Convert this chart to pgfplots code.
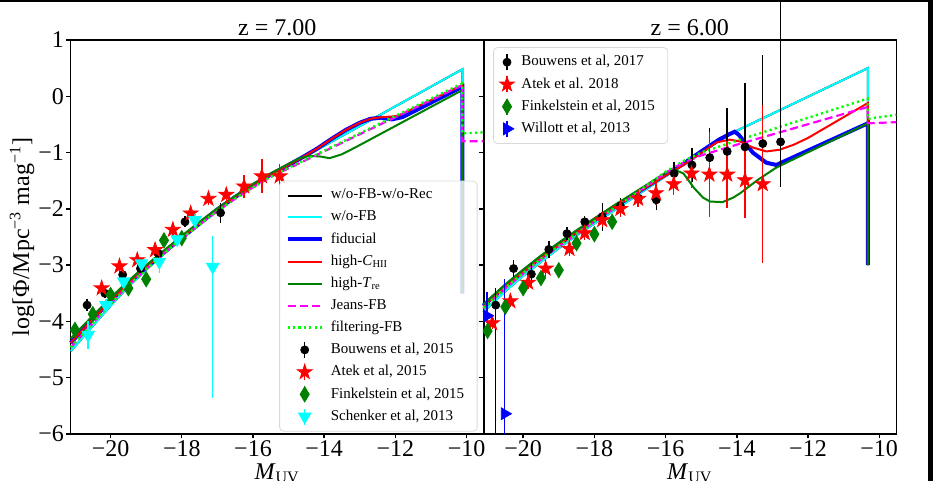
\documentclass[border=0pt]{standalone}
\usepackage{fontspec}
\setmainfont{Liberation Serif}
\usepackage{pgfplots}
\pgfplotsset{compat=1.18}
\usetikzlibrary{plotmarks}

\definecolor{mplgreen}{RGB}{0,128,0}
\definecolor{mpllime}{RGB}{0,255,0}
\definecolor{mplmag}{RGB}{255,0,255}
\definecolor{mplcyan}{RGB}{0,255,255}
\definecolor{mplred}{RGB}{255,0,0}
\definecolor{mplblue}{RGB}{0,0,255}

% filled five-pointed star, like matplotlib's '*'
\pgfdeclareplotmark{fivestar}{%
  \pgfpathmoveto{\pgfqpointpolar{90}{\pgfplotmarksize}}%
  \pgfpathlineto{\pgfqpointpolar{126}{0.382\pgfplotmarksize}}%
  \pgfpathlineto{\pgfqpointpolar{162}{\pgfplotmarksize}}%
  \pgfpathlineto{\pgfqpointpolar{198}{0.382\pgfplotmarksize}}%
  \pgfpathlineto{\pgfqpointpolar{234}{\pgfplotmarksize}}%
  \pgfpathlineto{\pgfqpointpolar{270}{0.382\pgfplotmarksize}}%
  \pgfpathlineto{\pgfqpointpolar{306}{\pgfplotmarksize}}%
  \pgfpathlineto{\pgfqpointpolar{342}{0.382\pgfplotmarksize}}%
  \pgfpathlineto{\pgfqpointpolar{18}{\pgfplotmarksize}}%
  \pgfpathlineto{\pgfqpointpolar{54}{0.382\pgfplotmarksize}}%
  \pgfpathclose
  \pgfusepathqfillstroke
}

\pgfplotsset{
  panel/.style={
    scale only axis, width=206.5pt, height=197pt,
    xmin=-21.12, xmax=-9.52, ymin=-6, ymax=1,
    xtick={-20,-18,-16,-14,-12,-10},
    xticklabels={−20,−18,−16,−14,−12,−10},
    ytick={-6,-5,-4,-3,-2,-1,0,1},
    tick align=outside, xtick pos=bottom, ytick pos=left,
    major tick length=2.2pt,
    tick style={black, line width=0.7pt},
    axis line style={line width=0.8pt},
    ticklabel style={font=\fontsize{12}{14}\selectfont, inner sep=1pt},
    every axis title shift=0pt,
    title style={font=\fontsize{12}{14}\selectfont, at={(axis description cs:0.5,1)},
      anchor=south, inner sep=0pt, yshift=2pt},
    xlabel={\textit{M}\textsubscript{UV}},
    xlabel style={font=\fontsize{12}{14}\selectfont, at={(axis description cs:0.5,0)},
      anchor=north, inner sep=0pt, yshift=-14.5pt},
    clip=false,
    legend cell align=left,
    legend image post style={fill opacity=1, draw opacity=1},
  },
  leg/.style={font=\fontsize{7.5}{9}\selectfont, draw=black!15, rounded corners=2pt,
    fill=white, fill opacity=0.8, text opacity=1, draw opacity=1, row sep=0.4pt,
    inner xsep=3pt, nodes={inner xsep=3.5pt}},
  errleg/.style={legend image code/.code={
    \draw[mark=none, line width=0.7pt] (0.3cm,-4pt) -- (0.3cm,4pt);
    \draw[mark repeat=2, mark phase=2] plot coordinates {(0cm,0cm) (0.3cm,0cm) (0.6cm,0cm)};}},
  dat/.style={only marks, errleg,
    /pgfplots/error bars/y dir=both,
    /pgfplots/error bars/y explicit,
    /pgfplots/error bars/error mark=none,
    /pgfplots/error bars/error bar style={line width=0.7pt}},
  m1/.style={black, line width=1pt},
  m2/.style={mplcyan, line width=1pt},
  m3/.style={mplblue, line width=2pt},
  m4/.style={mplred, line width=1pt},
  m5/.style={mplgreen, line width=1pt},
  m6/.style={mplmag, line width=1.1pt, dash pattern=on 4pt off 2pt},
  m7/.style={mpllime, line width=1.2pt, dash pattern=on 1.1pt off 1.6pt},
}

\begin{document}
\begin{tikzpicture}
\useasboundingbox (0,0) rectangle (466.5pt,240.5pt);

% ================= z = 7 =================
\begin{axis}[panel, at={(35.35pt,23.5pt)}, anchor=south west,
  title={z = 7.00},
  yticklabels={−6,−5,−4,−3,−2,−1,0,1},
  ylabel={log[Φ/Mpc\textsuperscript{−3} mag\textsuperscript{−1}]},
  ylabel style={font=\fontsize{12}{14}\selectfont, at={(axis description cs:-0.087,0.5)},
    anchor=south, inner sep=0pt},
  legend style={leg, at={(0.985,0.006)}, anchor=south east},
]
% w/o-FB-w/o-Rec
\addplot[m1] coordinates {(-21.12,-4.53) (-20.5,-4.08) (-20,-3.72) (-19.5,-3.38) (-19,-3.08)
  (-18.5,-2.8) (-18,-2.53) (-17.5,-2.28) (-17,-2.03) (-16.5,-1.8) (-16,-1.59) (-15.5,-1.4)
  (-15,-1.23) (-14.6,-1.09) (-10.12,0.48) (-10.12,-3.5)};
\addlegendentry{w/o-FB-w/o-Rec}
% w/o-FB
\addplot[m2] coordinates {(-21.12,-4.53) (-20.5,-4.08) (-20,-3.72) (-19.5,-3.38) (-19,-3.08)
  (-18.5,-2.8) (-18,-2.53) (-17.5,-2.28) (-17,-2.03) (-16.5,-1.8) (-16,-1.59) (-15.5,-1.4)
  (-15,-1.23) (-14.6,-1.09) (-10.12,0.48) (-10.12,-3.5)};
\addlegendentry{w/o-FB}
% fiducial
\addplot[m3] coordinates {(-21.12,-4.38) (-20.5,-3.96) (-20,-3.63) (-19.5,-3.32) (-19,-3.04)
  (-18.5,-2.77) (-18,-2.51) (-17.5,-2.26) (-17,-2.01) (-16.5,-1.79) (-16,-1.58) (-15.5,-1.39)
  (-15,-1.22) (-14.6,-1.08) (-14.2,-0.93) (-13.8,-0.76) (-13.4,-0.6) (-13,-0.47) (-12.7,-0.4)
  (-12.4,-0.38) (-12.1,-0.41) (-11.8,-0.37) (-10.12,0.17) (-10.12,-3.5)};
\addlegendentry{fiducial}
% high-C_HII
\addplot[m4] coordinates {(-21.12,-4.38) (-20.5,-3.96) (-20,-3.63) (-19.5,-3.32) (-19,-3.04)
  (-18.5,-2.77) (-18,-2.51) (-17.5,-2.26) (-17,-2.01) (-16.5,-1.79) (-16,-1.58) (-15.5,-1.39)
  (-15,-1.22) (-14.6,-1.08) (-14.2,-0.93) (-13.8,-0.76) (-13.4,-0.6) (-13,-0.47) (-12.7,-0.4)
  (-12.4,-0.37) (-12.1,-0.36) (-11.9,-0.34) (-10.12,0.2) (-10.12,-3.5)};
\addlegendentry{high-\textit{C}\textsubscript{HII}}
% high-T_re
\addplot[m5] coordinates {(-21.12,-4.3) (-20.5,-3.9) (-20,-3.58) (-19.5,-3.28) (-19,-3.0)
  (-18.5,-2.74) (-18,-2.48) (-17.5,-2.23) (-17,-1.99) (-16.5,-1.77) (-16,-1.56) (-15.5,-1.37)
  (-15,-1.2) (-14.7,-1.1) (-14.4,-1.06) (-14.1,-1.07) (-13.85,-1.1) (-13.5,-1.03) (-13.1,-0.9)
  (-10.12,0.11) (-10.12,-3.5)};
\addlegendentry{high-\textit{T}\textsubscript{re}}
% Jeans-FB
\addplot[m6] coordinates {(-21.12,-4.46) (-20.5,-4.03) (-20,-3.69) (-19.5,-3.36) (-19,-3.07)
  (-18.5,-2.79) (-18,-2.53) (-17.5,-2.28) (-17,-2.04) (-16.5,-1.82) (-16,-1.62) (-15.5,-1.43)
  (-15,-1.28) (-14.5,-1.13) (-10.12,0.2) (-10.12,-0.8) (-9.52,-0.8)};
\addlegendentry{Jeans-FB}
% filtering-FB
\addplot[m7] coordinates {(-21.12,-4.46) (-20.5,-4.03) (-20,-3.69) (-19.5,-3.36) (-19,-3.07)
  (-18.5,-2.79) (-18,-2.53) (-17.5,-2.28) (-17,-2.04) (-16.5,-1.82) (-16,-1.62) (-15.5,-1.43)
  (-15,-1.27) (-14.5,-1.12) (-10.12,0.23) (-10.12,-0.66) (-9.52,-0.64)};
\addlegendentry{filtering-FB}

% observations
\addplot[dat, black, mark=*, mark size=2pt] coordinates {
  (-20.66,-3.71) +- (0,0.1) (-20.16,-3.5) +- (0,0.08) (-19.66,-3.17) +- (0,0.08)
  (-19.16,-3.06) +- (0,0.07) (-18.66,-2.79) +- (0,0.07) (-17.91,-2.23) +- (0,0.1)
  (-16.91,-2.07) +- (0,0.18)};
\addlegendentry{Bouwens et al, 2015}
\addplot[dat, mplred, mark=fivestar, mark size=3.9pt, mark options={fill=mplred}] coordinates {
  (-20.25,-3.41) +- (0,0.08) (-19.75,-3.02) +- (0,0.1) (-19.25,-2.91) +- (0,0.1)
  (-18.75,-2.73) +- (0,0.1) (-18.25,-2.37) +- (0,0.12) (-17.75,-2.08) +- (0,0.1)
  (-17.25,-1.82) +- (0,0.12) (-16.75,-1.75) +- (0,0.14) (-16.25,-1.6) +- (0,0.2)
  (-15.75,-1.42) +- (0,0.3) (-15.25,-1.42) +- (0,0.22)};
\addlegendentry{Atek et al, 2015}
\addplot[dat, mplgreen, mark=diamond*, mark size=3.8pt, mark options={xscale=0.8, fill=mplgreen}] coordinates {
  (-21,-4.15) +- (0,0.08) (-20.5,-3.87) +- (0,0.08) (-20,-3.53) +- (0,0.08)
  (-19.5,-3.41) +- (0,0.08) (-19,-3.25) +- (0,0.08) (-18.5,-2.56) +- (0,0.08)
  (-18,-2.52) +- (0,0.08)};
\addlegendentry{Finkelstein et al, 2015}
\addplot[dat, mplcyan, mark=triangle*, mark size=3.6pt, mark options={rotate=180, fill=mplcyan}] coordinates {
  (-20.63,-4.24) +- (0,0.25) (-20.13,-3.71) +- (0,0.1) (-19.63,-3.29) +- (0,0.1)
  (-19.13,-2.97) +- (0,0.1) (-18.63,-2.94) +- (0,0.2) (-18.13,-2.54) +- (0,0.1)
  (-17.63,-2.2) +- (0,0.1) (-17.13,-3.03) += (0,0.54) -= (0,2.33)};
\addlegendentry{Schenker et al, 2013}
\end{axis}

% ================= z = 6 =================
\begin{axis}[panel, at={(241.65pt,23.5pt)}, anchor=south west,
  title={z = 6.00},
  yticklabels={},
  legend style={leg, at={(0.024,0.982)}, anchor=north west},
]
\addplot[m1, forget plot] coordinates {(-21.12,-3.83) (-20.5,-3.46) (-20,-3.19) (-19.5,-2.94)
  (-19,-2.7) (-18.5,-2.47) (-18,-2.26) (-17.5,-2.05) (-17,-1.84) (-16.5,-1.63) (-16,-1.42)
  (-15.5,-1.22) (-15,-1.01) (-14.5,-0.79) (-14.06,-0.63) (-10.32,0.5) (-10.32,-3.0)};
\addplot[m2, forget plot] coordinates {(-21.12,-3.83) (-20.5,-3.46) (-20,-3.19) (-19.5,-2.94)
  (-19,-2.7) (-18.5,-2.47) (-18,-2.26) (-17.5,-2.05) (-17,-1.84) (-16.5,-1.63) (-16,-1.42)
  (-15.5,-1.22) (-15,-1.01) (-14.5,-0.79) (-14.06,-0.63) (-10.32,0.5) (-10.32,-3.0)};
\addplot[m3, forget plot] coordinates {(-21.12,-3.72) (-20.5,-3.37) (-20,-3.11) (-19.5,-2.86)
  (-19,-2.63) (-18.5,-2.41) (-18,-2.2) (-17.5,-1.99) (-17,-1.79) (-16.5,-1.59) (-16,-1.39)
  (-15.5,-1.2) (-15,-0.98) (-14.5,-0.77) (-14.2,-0.67) (-14.06,-0.63) (-13.95,-0.68)
  (-13.55,-1.0) (-13.17,-1.18) (-12.89,-1.22) (-10.32,-0.48) (-10.32,-3.0)};
\addplot[m4, forget plot] coordinates {(-21.12,-3.73) (-20.5,-3.38) (-20,-3.12) (-19.5,-2.87)
  (-19,-2.64) (-18.5,-2.42) (-18,-2.21) (-17.5,-2.0) (-17,-1.8) (-16.5,-1.6) (-16,-1.41)
  (-15.5,-1.22) (-15,-1.01) (-14.57,-0.82) (-14.2,-0.77) (-13.92,-0.8) (-13.55,-0.91)
  (-13.17,-0.98) (-12.8,-0.95) (-12.4,-0.86) (-12,-0.74) (-10.32,-0.12) (-10.32,-3.0)};
\addplot[m5, forget plot] coordinates {(-21.12,-3.7) (-20.5,-3.34) (-20,-3.08) (-19.5,-2.83)
  (-19,-2.6) (-18.5,-2.38) (-18,-2.17) (-17.5,-1.96) (-17,-1.76) (-16.5,-1.56) (-16,-1.36)
  (-15.8,-1.29) (-15.5,-1.37) (-15.2,-1.63) (-14.95,-1.8) (-14.75,-1.87) (-14.4,-1.88)
  (-14.1,-1.8) (-13.9,-1.72) (-13.4,-1.48) (-12.9,-1.27) (-10.32,-0.48) (-10.32,-3.0)};
\addplot[m6, forget plot] coordinates {(-21.12,-3.77) (-20.5,-3.41) (-20,-3.15) (-19.5,-2.9)
  (-19,-2.67) (-18.5,-2.45) (-18,-2.23) (-17.5,-2.02) (-17,-1.81) (-16.5,-1.58) (-16,-1.36)
  (-15.5,-1.18) (-15,-1.05) (-14,-0.86) (-10.32,-0.19) (-10.32,-0.48) (-9.52,-0.46)};
\addplot[m7, forget plot] coordinates {(-21.12,-3.76) (-20.5,-3.4) (-20,-3.14) (-19.5,-2.89)
  (-19,-2.66) (-18.5,-2.44) (-18,-2.22) (-17.5,-2.01) (-17,-1.8) (-16.5,-1.57) (-16,-1.34)
  (-15.5,-1.15) (-15,-1.0) (-14,-0.79) (-10.32,-0.04) (-10.32,-0.4) (-9.52,-0.33)};

\addplot[dat, black, mark=*, mark size=2pt] coordinates {
  (-20.77,-3.71) += (0,0.3) -= (0,2.29) (-20.27,-3.06) +- (0,0.15) (-19.77,-3.16) +- (0,0.2)
  (-19.28,-2.72) +- (0,0.15) (-18.77,-2.44) +- (0,0.12) (-18.27,-2.23) +- (0,0.1)
  (-17.78,-2.14) +- (0,0.25) (-17.27,-1.95) +- (0,0.15) (-16.76,-1.81) +- (0,0.15)
  (-16.26,-1.84) +- (0,0.18) (-15.76,-1.37) +- (0,0.2) (-15.26,-1.22) +- (0,0.3)
  (-14.76,-1.09) += (0,0.52) -= (0,0.5) (-14.27,-0.98) += (0,0.78) -= (0,0.6)
  (-13.77,-0.9) += (0,1.13) -= (0,0.7) (-13.27,-0.84) += (0,1.57) -= (0,0.8)
  (-12.77,-0.81) += (0,2.6) -= (0,0.8)};
\addlegendentry{Bouwens et al, 2017}
\addplot[dat, mplred, mark=fivestar, mark size=3.9pt, mark options={fill=mplred}] coordinates {
  (-20.87,-4.03) +- (0,0.1) (-20.36,-3.64) +- (0,0.1) (-19.86,-3.31) +- (0,0.12)
  (-19.37,-3.06) +- (0,0.15) (-18.7,-2.71) +- (0,0.12) (-18.27,-2.43) +- (0,0.12)
  (-17.78,-2.2) +- (0,0.12) (-17.27,-2.0) +- (0,0.15) (-16.77,-1.82) +- (0,0.15)
  (-16.27,-1.72) +- (0,0.22) (-15.77,-1.56) +- (0,0.2) (-15.27,-1.37) +- (0,0.26)
  (-14.77,-1.39) +- (0,0.75) (-14.27,-1.39) +- (0,0.6) (-13.77,-1.49) +- (0,0.68)
  (-13.27,-1.56) +- (0,1.41)};
\addlegendentry{Atek et al. 2018}
\addplot[dat, mplgreen, mark=diamond*, mark size=3.8pt, mark options={xscale=0.8, fill=mplgreen}] coordinates {
  (-21,-4.17) +- (0,0.08) (-20.5,-3.74) +- (0,0.08) (-20,-3.41) +- (0,0.08)
  (-19.5,-3.23) +- (0,0.08) (-19,-3.09) +- (0,0.08) (-18.5,-2.61) +- (0,0.08)
  (-18,-2.45) +- (0,0.08) (-17.5,-2.23) +- (0,0.08)};
\addlegendentry{Finkelstein et al, 2015}
\addplot[dat, mplblue, mark=triangle*, mark size=3.4pt, mark options={rotate=-90, fill=mplblue}] coordinates {
  (-21.02,-3.9) += (0,0.43) -= (0,0.12) (-20.52,-5.64) += (0,2.39) -= (0,0.36)};
\addlegendentry{Willott et al, 2013}
\end{axis}

% dark margins of the source image
\fill[black] (0,239.6pt) rectangle (466.5pt,240.5pt);
\fill[black] (464pt,0) rectangle (466.5pt,240.5pt);
\end{tikzpicture}
\end{document}
